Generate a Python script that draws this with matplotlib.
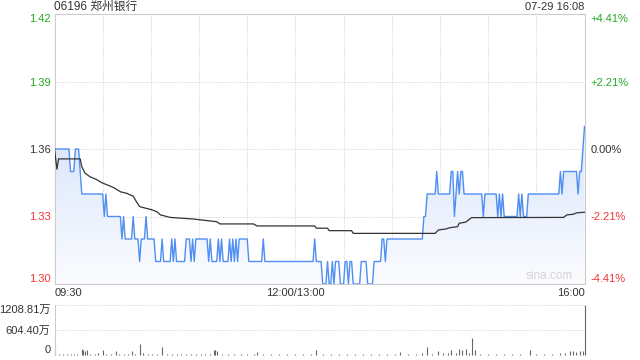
import matplotlib.pyplot as plt
import numpy as np

plt.rcParams['font.family'] = ['Liberation Sans', 'Noto Sans CJK SC']

# minutes since 09:30 (lunch break removed), last price
price_t = [0, 9, 10, 12, 13, 15, 17, 30, 31, 32, 33, 41, 42, 43, 44, 48, 49, 50, 52, 53,
           54, 56, 57, 58, 62, 63, 66, 67, 68, 72, 73, 74, 75, 76, 81, 82, 84, 85, 86, 87,
           88, 95, 96, 97, 98, 101, 102, 103, 104, 105, 108, 109, 110, 111, 112, 113, 114, 115, 120, 121,
           129, 130, 131, 161, 162, 163, 166, 167, 169, 170, 171, 172, 173, 174, 175, 177, 178, 180, 181, 182,
           183, 184, 185, 186, 190, 191, 194, 195, 198, 199, 203, 204, 205, 206, 207, 229, 230, 231, 232, 237,
           238, 239, 246, 247, 248, 249, 250, 251, 252, 253, 254, 255, 266, 267, 268, 275, 276, 277, 278, 279,
           280, 281, 288, 289, 290, 291, 292, 294, 295, 314, 315, 316, 317, 325, 326, 327, 328, 330]
price_v = [1.36, 1.36, 1.35, 1.35, 1.36, 1.36, 1.34, 1.34, 1.33, 1.34, 1.33, 1.33, 1.32, 1.33, 1.32, 1.32, 1.33, 1.32, 1.32, 1.31,
           1.32, 1.32, 1.33, 1.32, 1.32, 1.31, 1.31, 1.32, 1.31, 1.31, 1.32, 1.31, 1.32, 1.31, 1.31, 1.32, 1.32, 1.31, 1.32, 1.31,
           1.32, 1.32, 1.31, 1.32, 1.31, 1.31, 1.32, 1.31, 1.32, 1.31, 1.31, 1.32, 1.31, 1.32, 1.31, 1.32, 1.31, 1.32, 1.32, 1.31,
           1.31, 1.32, 1.31, 1.31, 1.32, 1.31, 1.31, 1.30, 1.30, 1.31, 1.30, 1.30, 1.31, 1.30, 1.31, 1.31, 1.30, 1.30, 1.31, 1.31,
           1.30, 1.31, 1.31, 1.30, 1.30, 1.31, 1.31, 1.30, 1.30, 1.31, 1.31, 1.32, 1.32, 1.31, 1.32, 1.32, 1.33, 1.33, 1.34, 1.34,
           1.35, 1.34, 1.34, 1.35, 1.35, 1.33, 1.34, 1.35, 1.34, 1.35, 1.35, 1.34, 1.34, 1.33, 1.34, 1.34, 1.33, 1.34, 1.33, 1.34,
           1.33, 1.33, 1.33, 1.34, 1.33, 1.34, 1.33, 1.33, 1.34, 1.34, 1.35, 1.34, 1.35, 1.35, 1.34, 1.35, 1.35, 1.37]

# average price line
avg_t = [0, 1.5, 2.5, 16, 17, 19, 22, 26, 29.5, 33, 37, 41, 45, 49, 51, 53, 61, 64, 66, 72,
         86, 101, 103, 124, 126, 162, 163, 170, 171, 185, 186, 237, 239, 244, 246, 251, 252, 256, 259.7, 317,
         319, 323, 325, 330]
avg_v = [1.36, 1.351, 1.3556, 1.3556, 1.3521, 1.3493, 1.3477, 1.3465, 1.345, 1.344, 1.3428, 1.341, 1.3403, 1.339, 1.3366, 1.3344, 1.3329, 1.332, 1.3307, 1.3296,
         1.3289, 1.3277, 1.3267, 1.3267, 1.3258, 1.3258, 1.3248, 1.3248, 1.3237, 1.3237, 1.3225, 1.3225, 1.324, 1.3245, 1.325, 1.3255, 1.327, 1.3275, 1.3295, 1.3296,
         1.3307, 1.331, 1.3316, 1.3319]

# volume in 万 shares
vol_t = [0, 3, 5, 8, 10, 12, 14, 17, 18, 19, 20, 22, 25, 27, 30, 32, 35, 38, 40, 43,
         46, 48, 50, 53, 55, 58, 61, 64, 67, 70, 73, 76, 79, 82, 85, 88, 91, 94, 97, 99,
         100, 101, 104, 108, 112, 116, 120, 124, 126, 130, 135, 140, 145, 150, 155, 160, 163, 167, 172, 177,
         182, 187, 192, 197, 202, 207, 212, 215, 220, 225, 229, 232, 235, 239, 242, 245, 247, 250, 252, 254,
         256, 258, 260, 262, 265, 270, 275, 280, 285, 290, 296, 300, 305, 310, 315, 318, 321, 323, 325, 327,
         329, 330]
vol_v = [110, 25, 30, 20, 35, 25, 30, 140, 120, 90, 130, 30, 25, 40, 110, 30, 25, 90, 30, 25,
         35, 95, 30, 265, 40, 25, 30, 35, 190, 25, 30, 25, 30, 25, 35, 25, 30, 25, 30, 110,
         130, 90, 25, 30, 25, 30, 25, 20, 70, 25, 30, 20, 25, 30, 25, 30, 120, 25, 30, 20,
         25, 30, 25, 20, 30, 25, 30, 70, 25, 35, 40, 190, 30, 95, 40, 45, 110, 60, 140, 130,
         145, 50, 410, 120, 30, 25, 30, 25, 35, 30, 115, 25, 30, 25, 40, 60, 85, 90, 80, 95,
         85, 1208.81]

prev_close = 1.36
price_ticks = [1.30, 1.33, 1.36, 1.39, 1.42]
vol_ticks = [0, 604.40, 1208.81]
time_ticks = [0, 150, 330]
time_labels = ['09:30', '12:00/13:00', '16:00']

GREEN = '#22a822'
RED = '#f53333'
DARK = '#333333'
FRAME = '#cccccc'

fig = plt.figure(figsize=(6.4, 3.6), dpi=100)
ax = fig.add_axes([54.5 / 640, 1 - 284 / 360, 530 / 640, 270 / 360])
axv = fig.add_axes([54.5 / 640, 1 - 355 / 360, 530 / 640, 50 / 360])

# gradient fill under the price line
poly = ax.fill_between(price_t, price_v, 1.30, color='none', lw=0)
grad = np.linspace(0, 1, 256).reshape(-1, 1)
im = ax.imshow(grad, extent=(0, 330, 1.30, 1.37), origin='lower', aspect='auto',
               cmap=plt.matplotlib.colors.LinearSegmentedColormap.from_list(
                   'g', ['#fbfcff', '#d8e4fa']), zorder=1)
im.set_clip_path(poly.get_paths()[0], transform=ax.transData)
ax.set_ylim(1.30, 1.42)
ax.set_xlim(0, 330)

ax.plot(price_t, price_v, color='#4f8ef2', lw=1.0, zorder=3)
ax.plot(avg_t, avg_v, color=DARK, lw=0.9, zorder=3)

# grid
for t in range(30, 330, 30):
    ax.axvline(t, color='#d0d0d0', lw=0.7, ls=(0, (1, 1.5)), zorder=0)
for p in [1.33, 1.36, 1.39]:
    ax.axhline(p, color='#d0d0d0', lw=0.7, ls=(0, (1, 1.5)), zorder=0)

for s in ax.spines.values():
    s.set_color(FRAME)
    s.set_linewidth(0.8)


def price_color(p):
    if p > prev_close + 1e-9:
        return GREEN
    if p < prev_close - 1e-9:
        return RED
    return DARK


# left labels
ax.set_yticks(price_ticks)
ax.set_yticklabels([f'{p:.2f}' for p in price_ticks], fontsize=8)
ax.tick_params(axis='y', length=0, pad=2.5)
for lab, p in zip(ax.get_yticklabels(), price_ticks):
    lab.set_color(price_color(p))
ax.get_yticklabels()[0].set_va('bottom')
ax.get_yticklabels()[-1].set_va('top')

ax.set_xticks(time_ticks)
ax.set_xticklabels(time_labels, fontsize=8, color=DARK)
ax.tick_params(axis='x', length=0, pad=3)
xl = ax.get_xticklabels()
xl[0].set_ha('left')
xl[-1].set_ha('right')

# right percentage labels
ax2 = ax.twinx()
ax2.set_ylim(1.30, 1.42)
ax2.set_yticks(price_ticks)
pct = []
for p in price_ticks:
    v = (p / prev_close - 1) * 100
    pct.append('0.00%' if abs(v) < 1e-9 else f'{v:+.2f}%')
ax2.set_yticklabels(pct, fontsize=8)
ax2.tick_params(axis='y', length=0, pad=4.5)
for lab, p in zip(ax2.get_yticklabels(), price_ticks):
    lab.set_color(price_color(p))
ax2.get_yticklabels()[0].set_va('bottom')
ax2.get_yticklabels()[-1].set_va('top')
for s in ax2.spines.values():
    s.set_visible(False)

ax.text(0.978, 0.008, 'sina.com', transform=ax.transAxes, ha='right', va='bottom',
        fontsize=8.5, color='#d4d4d4', zorder=4)

# volume panel
axv.set_xlim(0, 330)
axv.set_ylim(0, 1208.81)
axv.vlines(vol_t, 0, vol_v, color='#666666', lw=0.8, clip_on=False)
axv.axhline(604.40, color='#d0d0d0', lw=0.7, ls=(0, (1, 1.5)), zorder=0)
axv.axhline(1208.81, color='#d0d0d0', lw=0.7, ls=(0, (1, 1.5)), zorder=0)
for k in ['top', 'bottom', 'right']:
    axv.spines[k].set_visible(False)
axv.spines['left'].set_color(FRAME)
axv.spines['left'].set_linewidth(0.8)
axv.set_xticks([])
axv.set_yticks(vol_ticks)
axv.set_yticklabels(['0', '604.40万', '1208.81万'], fontsize=8, color=DARK)
axv.tick_params(axis='y', length=0, pad=3)
axv.get_yticklabels()[0].set_va('bottom')
axv.get_yticklabels()[-1].set_va('top')

fig.text(54 / 640, 1 - 7 / 360, '06196 郑州银行', ha='left', va='center', fontsize=8.5, color=DARK)
fig.text(584 / 640, 1 - 7 / 360, '07-29 16:08', ha='right', va='center', fontsize=8, color=DARK)

fig.savefig('out.png', dpi=100)
